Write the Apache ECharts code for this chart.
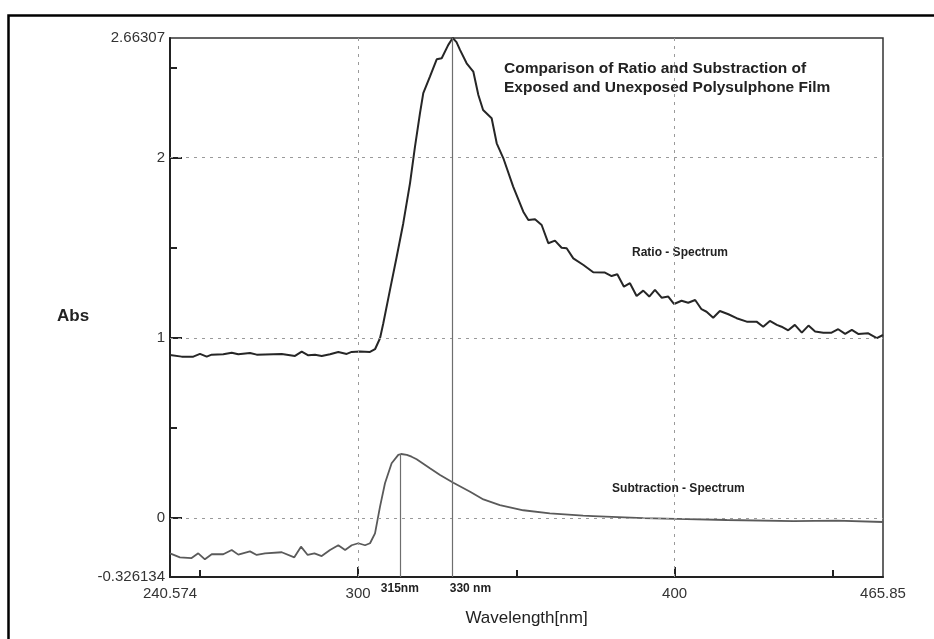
<!DOCTYPE html>
<html>
<head>
<meta charset="utf-8">
<script src="https://cdn.jsdelivr.net/npm/echarts@6/dist/echarts.min.js"></script>
<style>
html, body { margin: 0; padding: 0; background: #fff; }
#main { width: 934px; height: 639px; }
</style>
</head>
<body>
<div id="main"></div>
<script>
// 比值光谱 (Ratio - Spectrum)
var ratioWl = [240.57, 244.27, 247.94, 250.05, 252.17, 253.75, 257.41, 260.07, 262.15, 265.85,
	267.97, 275.87, 280.07, 282.19, 284.27, 286.39, 288.51, 291.13, 293.75, 296.40,
	297.98, 300.6, 303.77, 305.35, 306.93, 307.97, 310.08, 312.2, 314.28, 316.4,
	317.98, 319.56, 320.6, 322.7, 324.84, 326.42, 328.5, 329.9, 331.1, 332.2,
	334.3, 336.4, 338.0, 339.5, 342.2, 343.8, 345.9, 349.0, 352.2, 353.8,
	355.9, 358.0, 360.1, 362.2, 364.3, 365.9, 368.0, 371.2, 374.3, 378.0,
	380.1, 381.9, 384.0, 385.9, 388.0, 390.1, 392.0, 393.8, 395.9, 398.0,
	399.8, 402.2, 404.3, 406.5, 408.5, 410.1, 412.2, 414.3, 417.0, 419.6,
	422.8, 425.9, 428.0, 430.1, 432.3, 433.8, 435.9, 438.0, 440.2, 442.3,
	444.4, 447.0, 449.6, 451.7, 453.9, 456.0, 458.0, 461.2, 463.9, 465.85];
var ratioAbs = [0.905, 0.896, 0.896, 0.911, 0.896, 0.907, 0.909, 0.918, 0.909, 0.916,
	0.907, 0.911, 0.900, 0.924, 0.903, 0.907, 0.900, 0.909, 0.922, 0.911,
	0.922, 0.924, 0.922, 0.937, 0.998, 1.081, 1.266, 1.450, 1.636, 1.857,
	2.061, 2.246, 2.357, 2.449, 2.545, 2.551, 2.625, 2.66307, 2.640, 2.597,
	2.523, 2.477, 2.347, 2.264, 2.218, 2.079, 1.996, 1.839, 1.700, 1.654,
	1.658, 1.626, 1.525, 1.539, 1.500, 1.497, 1.441, 1.404, 1.364, 1.362,
	1.343, 1.353, 1.284, 1.303, 1.232, 1.262, 1.229, 1.266, 1.223, 1.229,
	1.188, 1.206, 1.195, 1.210, 1.159, 1.145, 1.112, 1.149, 1.131, 1.109,
	1.090, 1.090, 1.062, 1.094, 1.072, 1.062, 1.042, 1.072, 1.029, 1.068,
	1.035, 1.029, 1.029, 1.048, 1.022, 1.044, 1.022, 1.025, 0.998, 1.016];

// 差值光谱 (Subtraction - Spectrum)
var subWl = [240.57, 243.7, 247.4, 249.5, 251.6, 253.75, 257.4, 260.07, 262.15, 265.85,
	267.97, 270.6, 275.87, 279.85, 281.96, 284.08, 286.2, 288.5, 291.13, 293.75,
	295.9, 297.98, 300.07, 302.2, 303.77, 305.35, 306.93, 308.5, 310.6, 312.7,
	313.6, 315.4, 316.9, 318.5, 322.7, 325.9, 330.1, 335.4, 339.6, 344.8,
	352.2, 360.6, 371.1, 374.3, 390.1, 400.6, 416.5, 437.6, 451.2, 465.85];
var subAbs = [-0.195, -0.217, -0.221, -0.195, -0.228, -0.200, -0.200, -0.176, -0.202, -0.184,
	-0.204, -0.195, -0.189, -0.217, -0.158, -0.204, -0.195, -0.210, -0.176, -0.150,
	-0.176, -0.150, -0.139, -0.150, -0.139, -0.084, 0.064, 0.194, 0.305, 0.351,
	0.356, 0.351, 0.341, 0.327, 0.277, 0.240, 0.197, 0.147, 0.104, 0.073,
	0.044, 0.027, 0.014, 0.012, 0.000, -0.004, -0.010, -0.016, -0.014, -0.021];

// 坐标轴
var xMin = 240.574, xMax = 465.85;
var yMin = -0.326134, yMax = 2.66307;
var xLabels = [240.574, 300, 400, 465.85];
var xMajorTicks = [300, 400];
var xMinorTicks = [250, 350, 450];
var yLabels = [-0.326134, 0, 1, 2, 2.66307];
var yMajorTicks = [0, 1, 2];
var yMinorTicks = [0.5, 1.5, 2.5];
var xGrid = [300, 400];
var yGrid = [0, 1, 2];

// 峰位标记线: [波长, 线顶端的值, 文字]
var peakMarks = [[313.2, 0.356, '315nm'], [329.9, yMax, '330 nm']];

var title = 'Comparison of Ratio and Substraction of\nExposed and Unexposed Polysulphone Film';
var curveLabels = [['Ratio - Spectrum', 401.7, 1.471], ['Subtraction - Spectrum', 401.2, 0.162]];

function zip(a, b) {
	var ret = [];
	for (var i = 0; i < a.length; i++) {
		ret.push([a[i], b[i]]);
	}
	return ret;
}

var font = 'Liberation Sans, Arial, sans-serif';
var chart = echarts.init(document.getElementById('main'));

var gridLines = [];
for (var i = 0; i < xGrid.length; i++) gridLines.push({xAxis: xGrid[i]});
for (var i = 0; i < yGrid.length; i++) gridLines.push({yAxis: yGrid[i]});

var peakLines = [];
for (var i = 0; i < peakMarks.length; i++) {
	peakLines.push([{coord: [peakMarks[i][0], yMin]}, {coord: [peakMarks[i][0], peakMarks[i][1]]}]);
}

function valueAxis(isX, labels, ticks, tickLen, showLabel) {
	return {
		type: 'value',
		min: isX ? xMin : yMin,
		max: isX ? xMax : yMax,
		position: isX ? 'bottom' : 'left',
		splitLine: {show: false},
		axisLine: {show: showLabel, onZero: false, lineStyle: {color: '#222', width: 2}},
		axisTick: {show: true, inside: true, length: tickLen, customValues: ticks,
			lineStyle: {color: '#222', width: 2}},
		axisLabel: {show: showLabel, customValues: labels, color: '#333',
			fontFamily: font, fontSize: 15, margin: isX ? 9 : 5,
			formatter: function (v) { return String(v); }}
	};
}

var xA = valueAxis(true, xLabels, xMajorTicks, 10, true);
xA.name = 'Wavelength[nm]';
xA.nameLocation = 'middle';
xA.nameGap = 33;
xA.nameTextStyle = {fontFamily: font, fontSize: 17, color: '#222'};

var option = {
	backgroundColor: '#fff',
	animation: false,
	grid: {left: 170, right: 51, top: 38, bottom: 62, show: true,
		borderColor: '#333', borderWidth: 1.5, backgroundColor: 'transparent'},
	xAxis: [xA, valueAxis(true, [], xMinorTicks, 7, false)],
	yAxis: [valueAxis(false, yLabels, yMajorTicks, 12, true), valueAxis(false, [], yMinorTicks, 7, false)],
	series: [
		{
			name: 'grid',
			type: 'line',
			data: [],
			markLine: {
				silent: true, symbol: 'none', label: {show: false},
				lineStyle: {color: '#9a9a9a', type: [3, 5], width: 1},
				data: gridLines
			}
		},
		{
			name: 'Ratio - Spectrum',
			type: 'line',
			showSymbol: false,
			lineStyle: {color: '#262626', width: 2},
			data: zip(ratioWl, ratioAbs),
			z: 3
		},
		{
			name: 'Subtraction - Spectrum',
			type: 'line',
			showSymbol: false,
			lineStyle: {color: '#5a5a5a', width: 1.8},
			data: zip(subWl, subAbs),
			markLine: {
				silent: true, symbol: 'none', label: {show: false},
				lineStyle: {color: '#6e6e6e', type: 'solid', width: 1.2},
				data: peakLines
			},
			z: 3
		}
	]
};
chart.setOption(option);

// 文字标注，位置按坐标换算
var graphic = [
	{type: 'rect', shape: {x: 8.5, y: 15.5, width: 1000, height: 700}, silent: true,
		style: {fill: 'none', stroke: '#000', lineWidth: 2.5}},
	{type: 'text', x: 57, y: 316, silent: true,
		style: {text: 'Abs', font: 'bold 17px ' + font, fill: '#222', verticalAlign: 'middle'}}
];
var tp = chart.convertToPixel({gridIndex: 0}, [346.1, 2.547]);
graphic.push({type: 'text', x: tp[0], y: tp[1], silent: true,
	style: {text: title, font: 'bold 15.5px ' + font, lineHeight: 19, fill: '#222'}});
for (var i = 0; i < curveLabels.length; i++) {
	var p = chart.convertToPixel({gridIndex: 0}, [curveLabels[i][1], curveLabels[i][2]]);
	graphic.push({type: 'text', x: p[0], y: p[1], silent: true,
		style: {text: curveLabels[i][0], font: 'bold 12px ' + font, fill: '#222',
			align: 'center', verticalAlign: 'middle'}});
}
var axisY = chart.convertToPixel({gridIndex: 0}, [xMin, yMin])[1];
for (var i = 0; i < peakMarks.length; i++) {
	var px = chart.convertToPixel({gridIndex: 0}, [peakMarks[i][0], yMin])[0];
	graphic.push({type: 'text', x: i == 0 ? px : px - 3, y: axisY + 12, silent: true,
		style: {text: peakMarks[i][2], font: 'bold 12px ' + font, fill: '#222',
			align: i == 0 ? 'center' : 'left', verticalAlign: 'middle'}});
}
chart.setOption({graphic: graphic});
</script>
</body>
</html>
